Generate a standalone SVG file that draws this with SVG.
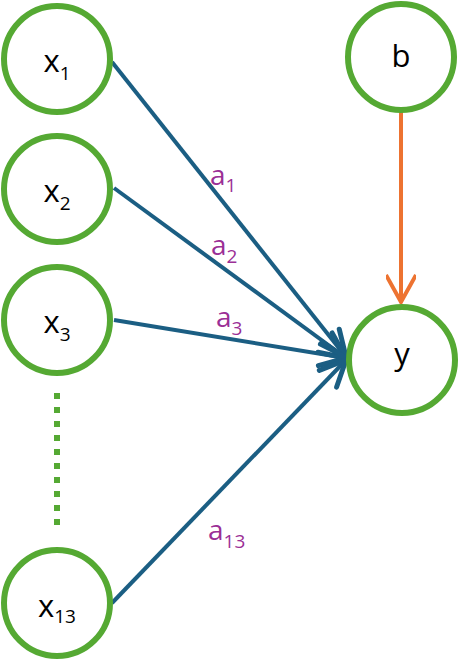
<svg xmlns="http://www.w3.org/2000/svg" width="460" height="660" viewBox="0 0 460 660">
<defs>
<style>
.node{fill:#fff;stroke:#55a933;stroke-width:6}
.lbl{font-family:"Open Sans","Liberation Sans",sans-serif;font-size:31px;fill:#000;text-anchor:middle}
.sub{font-size:19px}
.w{font-family:"Open Sans","Liberation Sans",sans-serif;font-size:28px;fill:#9b2f96}
.edge{stroke:#1b5e83;stroke-width:4;fill:none}
.bias{stroke:#ed7331;stroke-width:4;fill:none}
</style>
<marker id="ah" viewBox="-30 -15 32 30" refX="0" refY="0" markerWidth="32" markerHeight="30" markerUnits="userSpaceOnUse" orient="auto">
<path d="M-26,-12 L0,0 L-26,12" fill="none" stroke="#1b5e83" stroke-width="5" stroke-linecap="round" stroke-linejoin="round"/>
</marker>
<marker id="ao" viewBox="-30 -15 32 30" refX="0" refY="0" markerWidth="32" markerHeight="30" markerUnits="userSpaceOnUse" orient="auto">
<path d="M-27,-15 L0,0 L-27,15" fill="none" stroke="#ed7331" stroke-width="4" stroke-linejoin="miter"/>
</marker>
</defs>
<g id="connectors">
<line class="edge" x1="112" y1="62" x2="346" y2="357" marker-end="url(#ah)"/>
<line class="edge" x1="114" y1="188" x2="346" y2="358" marker-end="url(#ah)"/>
<line class="edge" x1="114" y1="320" x2="346" y2="358" marker-end="url(#ah)"/>
<line class="edge" x1="112" y1="603" x2="346" y2="360" marker-end="url(#ah)"/>
<line class="bias" x1="401" y1="111" x2="401" y2="302" marker-end="url(#ao)"/>
<line x1="57" y1="393" x2="57" y2="533" stroke="#55a933" stroke-width="6" stroke-dasharray="6 8"/>
<text class="w" x="210" y="185">a<tspan class="sub" dy="7">1</tspan></text>
<text class="w" x="211" y="255">a<tspan class="sub" dy="8">2</tspan></text>
<text class="w" x="216" y="327">a<tspan class="sub" dy="8">3</tspan></text>
<text class="w" x="208" y="540">a<tspan class="sub" dy="8">13</tspan></text>
</g>
<g id="x1"><circle class="node" cx="57" cy="59" r="53"/><text class="lbl" x="57" y="72">x<tspan class="sub" dy="8">1</tspan></text></g>
<g id="x2"><circle class="node" cx="57" cy="189" r="53"/><text class="lbl" x="57" y="202">x<tspan class="sub" dy="8">2</tspan></text></g>
<g id="x3"><circle class="node" cx="57" cy="320" r="53"/><text class="lbl" x="57" y="333">x<tspan class="sub" dy="8">3</tspan></text></g>
<g id="x13"><circle class="node" cx="57" cy="603" r="53"/><text class="lbl" x="57" y="617">x<tspan class="sub" dy="6">13</tspan></text></g>
<g id="b"><circle class="node" cx="401" cy="57" r="53"/><text class="lbl" x="401" y="67">b</text></g>
<g id="y"><circle class="node" cx="402" cy="360" r="53"/><text class="lbl" x="402" y="365">y</text></g>
</svg>
